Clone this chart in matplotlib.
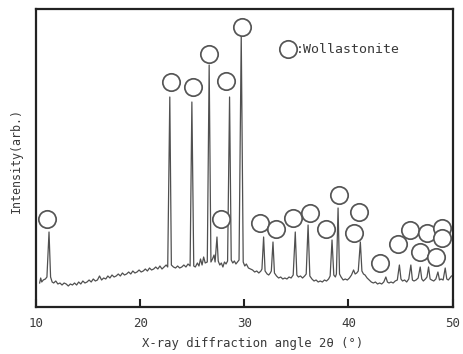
import matplotlib
matplotlib.use("Agg")
import matplotlib.pyplot as plt

# XRD trace vertices (2theta in degrees, intensity arb. units)
two_theta = [10.35, 10.45, 10.55, 10.7, 10.9, 11.05, 11.25, 11.4, 11.55, 11.7, 11.9, 12.1, 12.3, 12.5, 12.7, 12.9,
             13.1, 13.3, 13.5, 13.7, 13.9, 14.1, 14.3, 14.5, 14.7, 14.9, 15.1, 15.3, 15.5, 15.7, 15.9, 16.1,
             16.3, 16.5, 16.7, 16.9, 17.1, 17.3, 17.5, 17.7, 17.9, 18.1, 18.3, 18.5, 18.7, 18.9, 19.1, 19.3,
             19.5, 19.7, 19.9, 20.1, 20.3, 20.5, 20.7, 20.9, 21.1, 21.3, 21.5, 21.7, 21.9, 22.1, 22.3, 22.5,
             22.65, 22.85, 23.0, 23.2, 23.4, 23.6, 23.8, 24.0, 24.2, 24.4, 24.6, 24.8, 24.97, 25.15, 25.3,
             25.5, 25.65, 25.8, 25.95, 26.1, 26.25, 26.45, 26.63, 26.8, 26.95, 27.1, 27.2, 27.38, 27.5, 27.65,
             27.8, 27.95, 28.1, 28.25, 28.4, 28.59, 28.75, 28.9, 29.05, 29.2, 29.35, 29.5, 29.71, 29.9, 30.05,
             30.2, 30.4, 30.6, 30.8, 31.0, 31.2, 31.4, 31.6, 31.7, 31.86, 32.0, 32.2, 32.35, 32.5, 32.6, 32.76,
             32.9, 33.1, 33.3, 33.5, 33.7, 33.9, 34.1, 34.3, 34.5, 34.7, 34.9, 35.05, 35.2, 35.4, 35.6, 35.8,
             35.95, 36.13, 36.3, 36.5, 36.7, 36.9, 37.1, 37.3, 37.5, 37.7, 37.9, 38.1, 38.25, 38.43, 38.6,
             38.75, 38.85, 39.01, 39.15, 39.3, 39.5, 39.7, 39.9, 40.1, 40.3, 40.5, 40.65, 40.8, 40.95, 41.15,
             41.3, 41.45, 41.6, 41.8, 42.0, 42.2, 42.4, 42.6, 42.8, 43.0, 43.2, 43.4, 43.6, 43.75, 43.9, 44.1,
             44.3, 44.5, 44.7, 44.9, 45.05, 45.2, 45.4, 45.6, 45.8, 46.0, 46.15, 46.3, 46.5, 46.7, 46.9, 47.05,
             47.2, 47.4, 47.55, 47.7, 47.85, 48.0, 48.2, 48.4, 48.6, 48.75, 48.9, 49.1, 49.3, 49.45, 49.6,
             49.75, 49.9]
intensity = [24, 29, 25, 27, 28, 30, 75, 30, 25, 24, 26, 23, 24, 22, 24, 23,
             21, 23, 22, 24, 22, 25, 23, 26, 24, 25, 27, 25, 28, 26, 27, 31,
             27, 29, 28, 31, 29, 32, 30, 31, 33, 31, 34, 32, 33, 35, 33, 36,
             34, 35, 37, 35, 36, 38, 36, 39, 37, 38, 40, 38, 41, 38, 40, 42,
             40, 210, 42, 40, 39, 41, 39, 40, 42, 40, 43, 41, 205, 41, 40,
             44, 41, 48, 42, 50, 44, 45, 242, 45, 48, 52, 45, 70, 46, 42,
             44, 40, 45, 43, 46, 210, 47, 44, 46, 43, 45, 47, 272, 45, 41,
             43, 39, 38, 37, 35, 36, 34, 36, 38, 70, 36, 33, 32, 34, 36, 65,
             34, 31, 29, 30, 28, 29, 28, 30, 29, 32, 75, 32, 30, 31, 29, 31,
             33, 82, 31, 28, 26, 27, 25, 26, 25, 27, 26, 28, 31, 67, 32,
             30, 33, 99, 33, 30, 27, 28, 27, 29, 32, 37, 33, 34, 36, 65,
             36, 33, 32, 29, 27, 25, 24, 25, 23, 24, 23, 25, 30, 25, 24, 25,
             24, 26, 27, 42, 28, 26, 27, 25, 28, 42, 27, 26, 27, 29, 40, 28,
             26, 28, 30, 40, 28, 27, 26, 28, 35, 27, 28, 27, 39, 28, 27,
             29, 31]

# Wollastonite markers
circle_x = [11.1, 22.95, 25.07, 26.66, 27.76, 28.27, 29.78, 31.47, 33.08, 34.68, 36.28, 37.88,
            39.07, 40.99, 40.51, 43.08, 44.78, 45.96, 47.57, 49.01, 46.86, 49.01, 48.37]
circle_y = [88, 225, 220, 253, 88, 226, 280, 84, 78, 89, 94, 78,
            112, 95, 74, 44, 63, 77, 74, 79, 55, 69, 50]

x_ticks = [10, 20, 30, 40, 50]
legend_text = ":Wollastonite"
x_label = "X-ray diffraction angle 2θ (°)"
y_label = "Intensity(arb.)"

mono = "DejaVu Sans Mono"
ink = "#3a3a3a"

fig = plt.figure(figsize=(4.63, 3.54), dpi=100)
ax = fig.add_axes([36 / 463, 47 / 354, 416.5 / 463, 298 / 354])

ax.plot(two_theta, intensity, color="#505050", lw=0.9)
ax.plot(circle_x, circle_y, ls="none", marker="o", ms=12.5, mfc="white",
        mec="#555555", mew=1.25, clip_on=False, zorder=3)

# legend
ax.plot([34.16], [257.7], ls="none", marker="o", ms=12.5, mfc="white",
        mec="#555555", mew=1.25, zorder=3)
ax.text(35.0, 257.7, legend_text, ha="left", va="center", fontsize=9.5,
        family=mono, color=ink)

ax.set_xlim(10, 50)
ax.set_ylim(0, 298)
ax.set_xticks(x_ticks)
ax.set_xticklabels([str(t) for t in x_ticks], family=mono, fontsize=9, color=ink)
ax.set_yticks([])
ax.tick_params(axis="x", direction="in", length=6, width=1.5, pad=7, color="#222222")
for s in ax.spines.values():
    s.set_linewidth(1.6)
    s.set_color("#222222")

fig.text(253 / 463, 1 - 343 / 354, x_label, ha="center", va="center",
         fontsize=8.8, family=mono, color=ink)
fig.text(16 / 463, 1 - 160 / 354, y_label, ha="center", va="center",
         rotation=90, fontsize=8.4, family=mono, color=ink)

fig.savefig("out.png", dpi=100)
